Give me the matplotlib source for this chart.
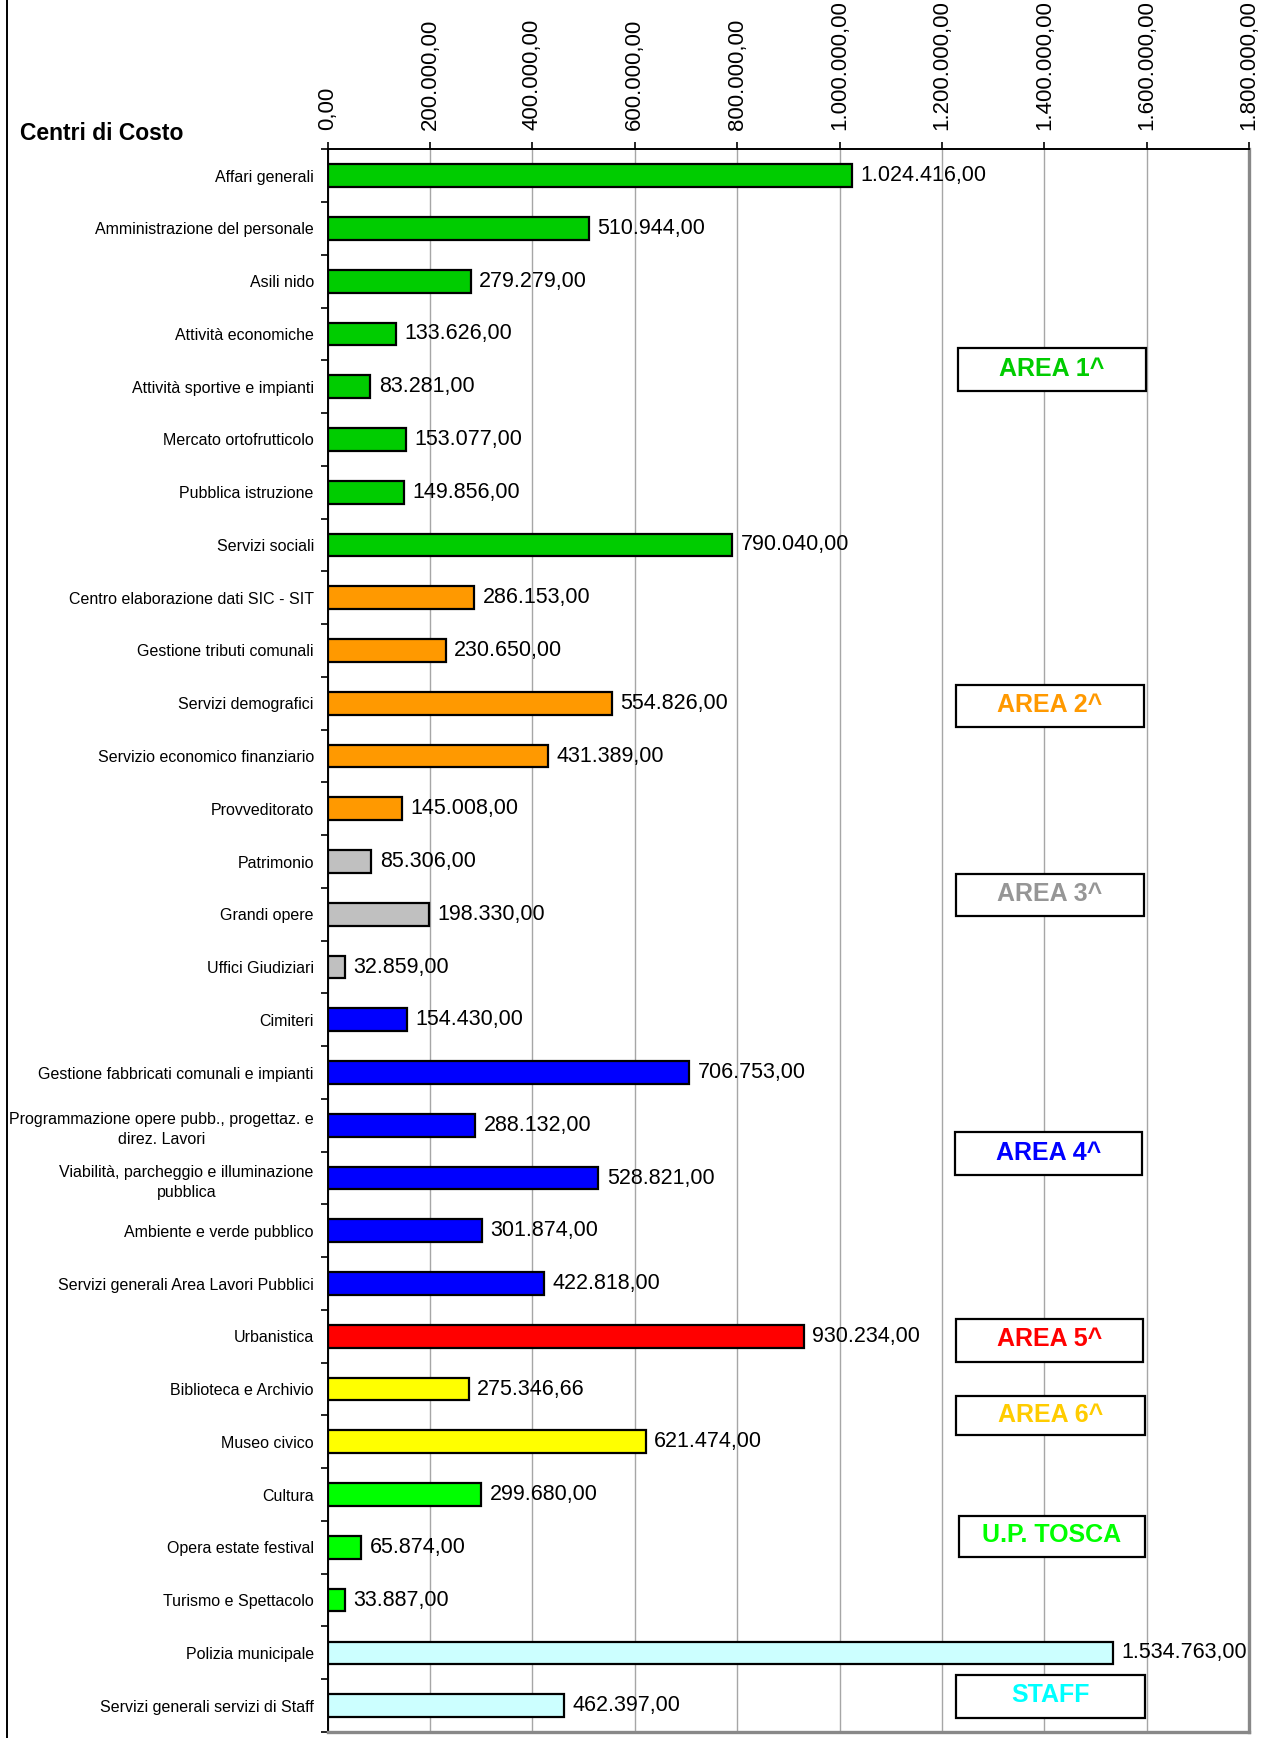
import matplotlib
matplotlib.use("Agg")
import matplotlib.pyplot as plt
from matplotlib.patches import Rectangle
from matplotlib.lines import Line2D

plt.rcParams['font.family'] = ['Liberation Sans', 'DejaVu Sans']

# dati
centri = [
    "Affari generali", "Amministrazione del personale", "Asili nido",
    "Attività economiche", "Attività sportive e impianti",
    "Mercato ortofrutticolo", "Pubblica istruzione", "Servizi sociali",
    "Centro elaborazione dati SIC - SIT", "Gestione tributi comunali",
    "Servizi demografici", "Servizio economico finanziario", "Provveditorato",
    "Patrimonio", "Grandi opere", "Uffici Giudiziari",
    "Cimiteri", "Gestione fabbricati comunali e impianti",
    "Programmazione opere pubb., progettaz. e\ndirez. Lavori",
    "Viabilità, parcheggio e illuminazione\npubblica",
    "Ambiente e verde pubblico", "Servizi generali Area Lavori Pubblici",
    "Urbanistica", "Biblioteca e Archivio", "Museo civico",
    "Cultura", "Opera estate festival", "Turismo e Spettacolo",
    "Polizia municipale", "Servizi generali servizi di Staff",
]
costi = [
    1024416.00, 510944.00, 279279.00, 133626.00, 83281.00, 153077.00,
    149856.00, 790040.00,
    286153.00, 230650.00, 554826.00, 431389.00, 145008.00,
    85306.00, 198330.00, 32859.00,
    154430.00, 706753.00, 288132.00, 528821.00, 301874.00, 422818.00,
    930234.00,
    275346.66, 621474.00,
    299680.00, 65874.00, 33887.00,
    1534763.00, 462397.00,
]
aree = (["AREA 1^"] * 8 + ["AREA 2^"] * 5 + ["AREA 3^"] * 3 + ["AREA 4^"] * 6
        + ["AREA 5^"] + ["AREA 6^"] * 2 + ["U.P. TOSCA"] * 3 + ["STAFF"] * 2)
xticks = [0, 200000, 400000, 600000, 800000, 1000000, 1200000, 1400000,
          1600000, 1800000]

# colori barre e testo riquadri
col_barra = {"AREA 1^": "#00CC00", "AREA 2^": "#FF9900", "AREA 3^": "#C0C0C0",
             "AREA 4^": "#0000FF", "AREA 5^": "#FF0000", "AREA 6^": "#FFFF00",
             "U.P. TOSCA": "#00FF00", "STAFF": "#CCFFFF"}
col_testo = {"AREA 1^": "#00CC00", "AREA 2^": "#FF9900", "AREA 3^": "#969696",
             "AREA 4^": "#0000FF", "AREA 5^": "#FF0000", "AREA 6^": "#FFCC00",
             "U.P. TOSCA": "#00FF00", "STAFF": "#00FFFF"}
# posizione riquadri (pixel: x0, y0 alto, x1, y1 basso)
riquadri = {"AREA 1^": (958, 348, 1146, 391), "AREA 2^": (956, 685, 1144, 727),
            "AREA 3^": (956, 874, 1144, 916), "AREA 4^": (955, 1132, 1142, 1175),
            "AREA 5^": (956, 1319, 1143, 1362), "AREA 6^": (956, 1396, 1145, 1435),
            "U.P. TOSCA": (959, 1516, 1145, 1557), "STAFF": (956, 1675, 1145, 1718)}


def fmt(v):
    s = f"{v:,.2f}"
    return s.replace(",", "X").replace(".", ",").replace("X", ".")


W, H = 1265, 1738
fig = plt.figure(figsize=(W / 100, H / 100), dpi=100)
ax = fig.add_axes([327.7 / W, 1 - 1732 / H, (1249 - 327.7) / W, (1732 - 149.3) / H])

n = len(centri)
ypos = list(range(n))
ax.barh(ypos, costi, height=0.43, color=[col_barra[a] for a in aree],
        edgecolor="black", linewidth=1.6, zorder=3)
for y, v in zip(ypos, costi):
    ax.annotate(fmt(v), (v, y), xytext=(6, 0), textcoords="offset points",
                va="center", ha="left", fontsize=15.5, zorder=4)

ax.set_ylim(n - 0.5, -0.5)
ax.set_xlim(0, 1800000)
ax.set_yticks([i + 0.5 for i in range(-1, n)], minor=False)
ax.set_yticklabels([])
ax.set_yticks(ypos, minor=True)
ax.set_yticklabels(centri, minor=True, fontsize=11.5, multialignment="center",
                   linespacing=1.45)
ax.tick_params(axis="y", which="minor", length=0, pad=10)
ax.tick_params(axis="y", which="major", length=5, width=1.2, direction="out")

ax.set_xticks(xticks)
ax.set_xticklabels([fmt(t) for t in xticks], rotation=90, fontsize=16)
ax.xaxis.tick_top()
ax.tick_params(axis="x", length=5, width=1.2, pad=9, direction="out")
ax.grid(axis="x", color="#A6A6A6", linewidth=1.0, zorder=0)

ax.spines["top"].set_linewidth(1.4)
ax.spines["left"].set_linewidth(1.4)
for s in ("right", "bottom"):
    ax.spines[s].set_color("#888888")
    ax.spines[s].set_linewidth(2.4)

fig.text(20 / W, 1 - 133 / H, "Centri di Costo", fontsize=16.5,
         fontweight="bold", va="center", ha="left")

for nome, (x0, y0, x1, y1) in riquadri.items():
    fig.patches.append(Rectangle((x0 / W, 1 - y1 / H), (x1 - x0) / W,
                                 (y1 - y0) / H, transform=fig.transFigure,
                                 facecolor="white", edgecolor="black",
                                 linewidth=1.6, zorder=5))
    fig.text((x0 + x1) / 2 / W, 1 - ((y0 + y1) / 2 - 1) / H, nome,
             color=col_testo[nome], fontsize=18, fontweight="bold",
             ha="center", va="center", zorder=6)

fig.add_artist(Line2D([6.7 / W, 6.7 / W], [0, 1], color="black", linewidth=1.4))

fig.savefig("out.png", dpi=100)
